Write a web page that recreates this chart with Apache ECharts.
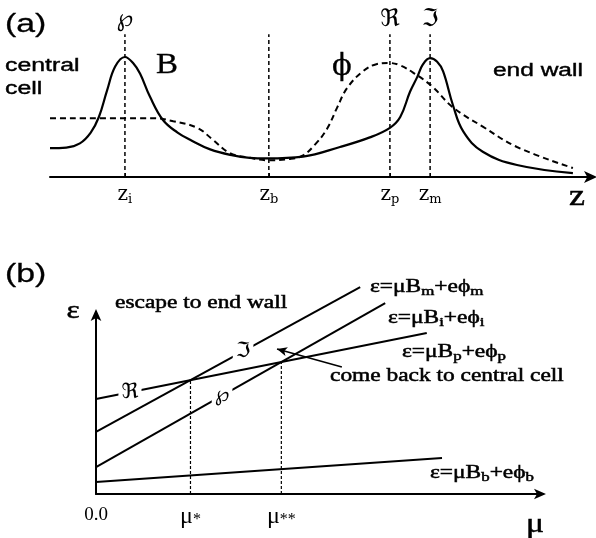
<!DOCTYPE html>
<html>
<head>
<meta charset="utf-8">
<script src="https://cdn.jsdelivr.net/npm/echarts@6/dist/echarts.min.js"></script>
<style>
  html, body { margin: 0; padding: 0; background: #fff; }
  #chart { width: 596px; height: 538px; }
</style>
</head>
<body>
<div id="chart"></div>
<script>
// ---------- (a) magnetic field B and potential phi along z ----------
const zTicks = [13.8, 40.3, 62.6, 70.0];          // z_i, z_b, z_p, z_m
const zTickNames = ['i', 'b', 'p', 'm'];
const zMarkPositions = [13.8, 62.6, 70.0];        // points marked above the profiles
const zMarkSymbols = ['\u2118', '\u211C', '\u2111'];
const zGuideTop = 1.19;

const bProfile = [
  [0, 0.24], [3, 0.245], [5.5, 0.28], [7.5, 0.37], [9, 0.5], [10.5, 0.72],
  [12, 0.92], [13.8, 1.0], [15.3, 0.95], [16.6, 0.86], [18.4, 0.67],
  [20.8, 0.475], [23.5, 0.37], [25.8, 0.31], [29.5, 0.23], [33.7, 0.18],
  [36.8, 0.16], [40.0, 0.155], [46.6, 0.17], [53.4, 0.25], [58.9, 0.33],
  [62.6, 0.41], [64.5, 0.5], [66.3, 0.71], [67.6, 0.83], [68.7, 0.94],
  [70.0, 0.99], [71.3, 0.96], [72.4, 0.88], [74.2, 0.6], [76.1, 0.38],
  [79.7, 0.21], [86.0, 0.1], [96.3, 0.033]
];
const phiProfile = [
  [0, 0.49], [19.0, 0.49], [22.7, 0.465], [27.1, 0.41], [30.0, 0.31],
  [33.1, 0.2], [36.8, 0.16], [40.0, 0.14], [44.2, 0.15], [46.6, 0.18],
  [48.8, 0.27], [51.0, 0.4], [52.9, 0.58], [54.7, 0.74], [57.6, 0.88],
  [60.1, 0.94], [62.4, 0.95], [64.5, 0.93], [67.2, 0.86], [70.5, 0.75],
  [74.2, 0.58], [79.7, 0.42], [86.0, 0.25], [96.3, 0.075]
];

// ---------- (b) energy thresholds versus magnetic moment mu ----------
// each line: [mu, eps] at its start and end
const lineM = [[0, 34.1], [59.1, 113.7]];   // eps = mu B_m + e phi_m
const lineI = [[0, 14.8], [64.7, 104.9]];   // eps = mu B_i + e phi_i
const lineP = [[0, 52.2], [74.0, 88.5]];    // eps = mu B_p + e phi_p
const lineB = [[0, 6.6], [77.4, 19.8]];     // eps = mu B_b + e phi_b
const arrowFrom = [55.0, 69.8];
const arrowTo = [40.5, 79.7];
const lineMarkPositions = [7.6, 32.9, 28.2];   // mu where the line symbols sit (p, m, i)

function epsAt(line, mu) {
  const [[x0, y0], [x1, y1]] = line;
  return y0 + (y1 - y0) * (mu - x0) / (x1 - x0);
}
function crossing(a, b) {
  const sa = (a[1][1] - a[0][1]) / (a[1][0] - a[0][0]);
  const sb = (b[1][1] - b[0][1]) / (b[1][0] - b[0][0]);
  return (b[0][1] - a[0][1]) / (sa - sb);
}
const muStar = crossing(lineM, lineP);
const muStarStar = crossing(lineI, lineP);
const muTicks = [0, muStar, muStarStar];
const muTickNames = ['0.0', '{m|\u03bc}{s|*}', '{m|\u03bc}{s|**}'];

const SERIF = "'Liberation Serif','Times New Roman',serif";
const SANS = "'Liberation Sans',Arial,sans-serif";
const SYM = "'DejaVu Serif','DejaVu Sans',serif";
const INK = '#000';
const HEAVY = 0.5;   // thin outline that thickens printed glyphs

function note(text, x, y, opts) {
  opts = opts || {};
  const style = {
    text: text,
    fontFamily: opts.font || SERIF,
    fontSize: opts.size || 18,
    fill: INK,
    align: opts.align || 'left', textAlign: opts.align || 'left',
    verticalAlign: 'middle', textVerticalAlign: 'middle'
  };
  if (opts.rich) {
    style.rich = opts.rich;
  } else {
    style.stroke = INK;
    style.lineWidth = opts.heavy === undefined ? HEAVY : opts.heavy;
  }
  return { type: 'text', x: x, y: y, scaleX: opts.sx || 1.3, z: 100, style: style };
}
const eqRich = {
  t: { fontFamily: SERIF, fontSize: 18, lineHeight: 22, verticalAlign: 'middle',
       fill: INK, stroke: INK, lineWidth: HEAVY },
  s: { fontFamily: SERIF, fontSize: 13, lineHeight: 11, verticalAlign: 'bottom',
       fill: INK, stroke: INK, lineWidth: HEAVY }
};
function eq(sub) {
  return '{t|\u03b5=\u03bcB}{s|' + sub + '}{t|+e\u03d5}{s|' + sub + '}';
}

const straight = (line) => ({
  type: 'line', xAxisIndex: 2, yAxisIndex: 1, data: line, symbol: 'none',
  clip: false, silent: true, lineStyle: { color: INK, width: 2 }, z: 3
});
const lineMark = (line, mu, sym) => ({
  type: 'scatter', xAxisIndex: 2, yAxisIndex: 1, symbolSize: 0, silent: true, z: 6,
  clip: false, itemStyle: { opacity: 1 },
  data: [[mu, epsAt(line, mu)]],
  label: {
    show: true, position: 'inside', formatter: sym, color: INK, opacity: 1,
    fontFamily: SYM, fontSize: 21, backgroundColor: '#fff', padding: [0, 3]
  }
});

const chart = echarts.init(document.getElementById('chart'), null, { renderer: 'canvas' });

chart.setOption({
  backgroundColor: '#fff',
  animation: false,
  grid: [
    { left: 50, top: 33, width: 543, height: 144, outerBoundsMode: 'none', containLabel: false },
    { left: 96, top: 312, width: 447, height: 182, outerBoundsMode: 'none', containLabel: false }
  ],
  xAxis: [
    {
      type: 'value', gridIndex: 0, min: 0, max: 100,
      splitLine: { show: false },
      axisLine: { show: true, symbol: ['none', 'arrow'], symbolSize: [9, 13], symbolOffset: [0, 4],
                  lineStyle: { color: INK, width: 2 } },
      axisTick: { show: true, customValues: zTicks, inside: true, length: 4, lineStyle: { color: INK, width: 1 } },
      axisLabel: {
        show: true, customValues: zTicks, margin: 7, color: INK,
        formatter: (v) => {
          const k = zTicks.findIndex(t => Math.abs(t - v) < 1e-6);
          return '{z|z}{s|' + zTickNames[k] + '}';
        },
        rich: {
          z: { fontFamily: "'DejaVu Serif',serif", fontSize: 20, lineHeight: 22, color: INK },
          s: { fontFamily: "'DejaVu Serif',serif", fontSize: 13, lineHeight: 10, verticalAlign: 'bottom', color: INK }
        }
      }
    },
    {
      type: 'value', gridIndex: 0, min: 0, max: 100, position: 'top',
      splitLine: { show: false }, axisLine: { show: false }, axisTick: { show: false },
      axisLabel: {
        show: true, customValues: zMarkPositions, margin: 1, color: INK,
        fontFamily: SYM, fontSize: 24,
        formatter: (v) => zMarkSymbols[zMarkPositions.findIndex(t => Math.abs(t - v) < 1e-6)]
      }
    },
    {
      type: 'value', gridIndex: 1, min: 0, max: 100,
      splitLine: { show: false },
      axisLine: { show: true, symbol: ['none', 'arrow'], symbolSize: [8, 12], symbolOffset: [0, 3],
                  lineStyle: { color: INK, width: 2 } },
      axisTick: { show: false },
      axisLabel: {
        show: true, customValues: muTicks, margin: 12, color: INK,
        fontFamily: SERIF, fontSize: 19,
        formatter: (v) => muTickNames[muTicks.findIndex(t => Math.abs(t - v) < 1e-6)],
        rich: {
          m: { fontFamily: SERIF, fontSize: 24, lineHeight: 22, color: INK },
          s: { fontFamily: SERIF, fontSize: 16, lineHeight: 10, verticalAlign: 'bottom', color: INK }
        }
      }
    }
  ],
  yAxis: [
    { type: 'value', gridIndex: 0, min: 0, max: 1.2, show: false },
    {
      type: 'value', gridIndex: 1, min: 0, max: 100,
      splitLine: { show: false },
      axisLine: { show: true, symbol: ['none', 'arrow'], symbolSize: [8, 12], symbolOffset: [0, 3],
                  lineStyle: { color: INK, width: 2 } },
      axisTick: { show: false }, axisLabel: { show: false }
    }
  ],
  series: [
    {
      type: 'line', xAxisIndex: 0, yAxisIndex: 0, data: bProfile, smooth: 0.4,
      symbol: 'none', silent: true, lineStyle: { color: INK, width: 2.2 }, z: 4
    },
    {
      type: 'line', xAxisIndex: 0, yAxisIndex: 0, data: phiProfile, smooth: 0.4,
      symbol: 'none', silent: true, lineStyle: { color: INK, width: 2, type: [6, 4] }, z: 4
    },
    ...zTicks.map(z => ({
      type: 'line', xAxisIndex: 0, yAxisIndex: 0, data: [[z, 0], [z, zGuideTop]],
      symbol: 'none', silent: true, lineStyle: { color: INK, width: 1.5, type: [4, 3] }, z: 3
    })),
    straight(lineM), straight(lineI),
    Object.assign(straight(lineP), {
      markLine: {
        silent: true, symbol: ['none', 'arrow'], symbolSize: [7, 10],
        label: { show: false },
        lineStyle: { color: INK, width: 1.5, type: 'solid' },
        data: [[{ coord: arrowFrom }, { coord: arrowTo }]]
      }
    }),
    straight(lineB),
    ...[muStar, muStarStar].map(mu => ({
      type: 'line', xAxisIndex: 2, yAxisIndex: 1, data: [[mu, 0], [mu, epsAt(lineP, mu)]],
      symbol: 'none', silent: true, lineStyle: { color: INK, width: 1.2, type: [3, 2] }, z: 2
    })),
    lineMark(lineP, lineMarkPositions[0], '\u211C'),
    lineMark(lineM, lineMarkPositions[1], '\u2111'),
    lineMark(lineI, lineMarkPositions[2], '\u2118')
  ],
  graphic: [
    note('(a)', 5, 25, { font: SANS, size: 26, sx: 1.3, heavy: 0.3 }),
    note('central', 5, 66, { font: SANS, size: 18, sx: 1.38, heavy: 0.4 }),
    note('cell', 5, 89, { font: SANS, size: 18, sx: 1.38, heavy: 0.4 }),
    note('B', 167, 65, { size: 30, sx: 1.1, align: 'center', heavy: 0.3 }),
    note('\u03d5', 342, 67, { font: SYM, size: 29, sx: 1.0, align: 'center', heavy: 0.3 }),
    note('end wall', 493, 71, { font: SANS, size: 18, sx: 1.36, heavy: 0.4 }),
    note('z', 577, 197, { size: 30, sx: 1.2, align: 'center' }),
    note('(b)', 5, 275, { font: SANS, size: 26, sx: 1.3, heavy: 0.3 }),
    note('\u03b5', 73, 311, { size: 26, sx: 1.2, align: 'center' }),
    note('escape to end wall', 115, 303, { size: 18 }),
    note(eq('m'), 370, 287, { rich: eqRich }),
    note(eq('i'), 388, 318, { rich: eqRich }),
    note(eq('p'), 402, 352, { rich: eqRich }),
    note('come back to central cell', 330, 376, { size: 18 }),
    note(eq('b'), 430, 473, { rich: eqRich }),
    note('\u03bc', 535, 525, { size: 28, sx: 1.2, align: 'center' })
  ]
});
</script>
</body>
</html>
